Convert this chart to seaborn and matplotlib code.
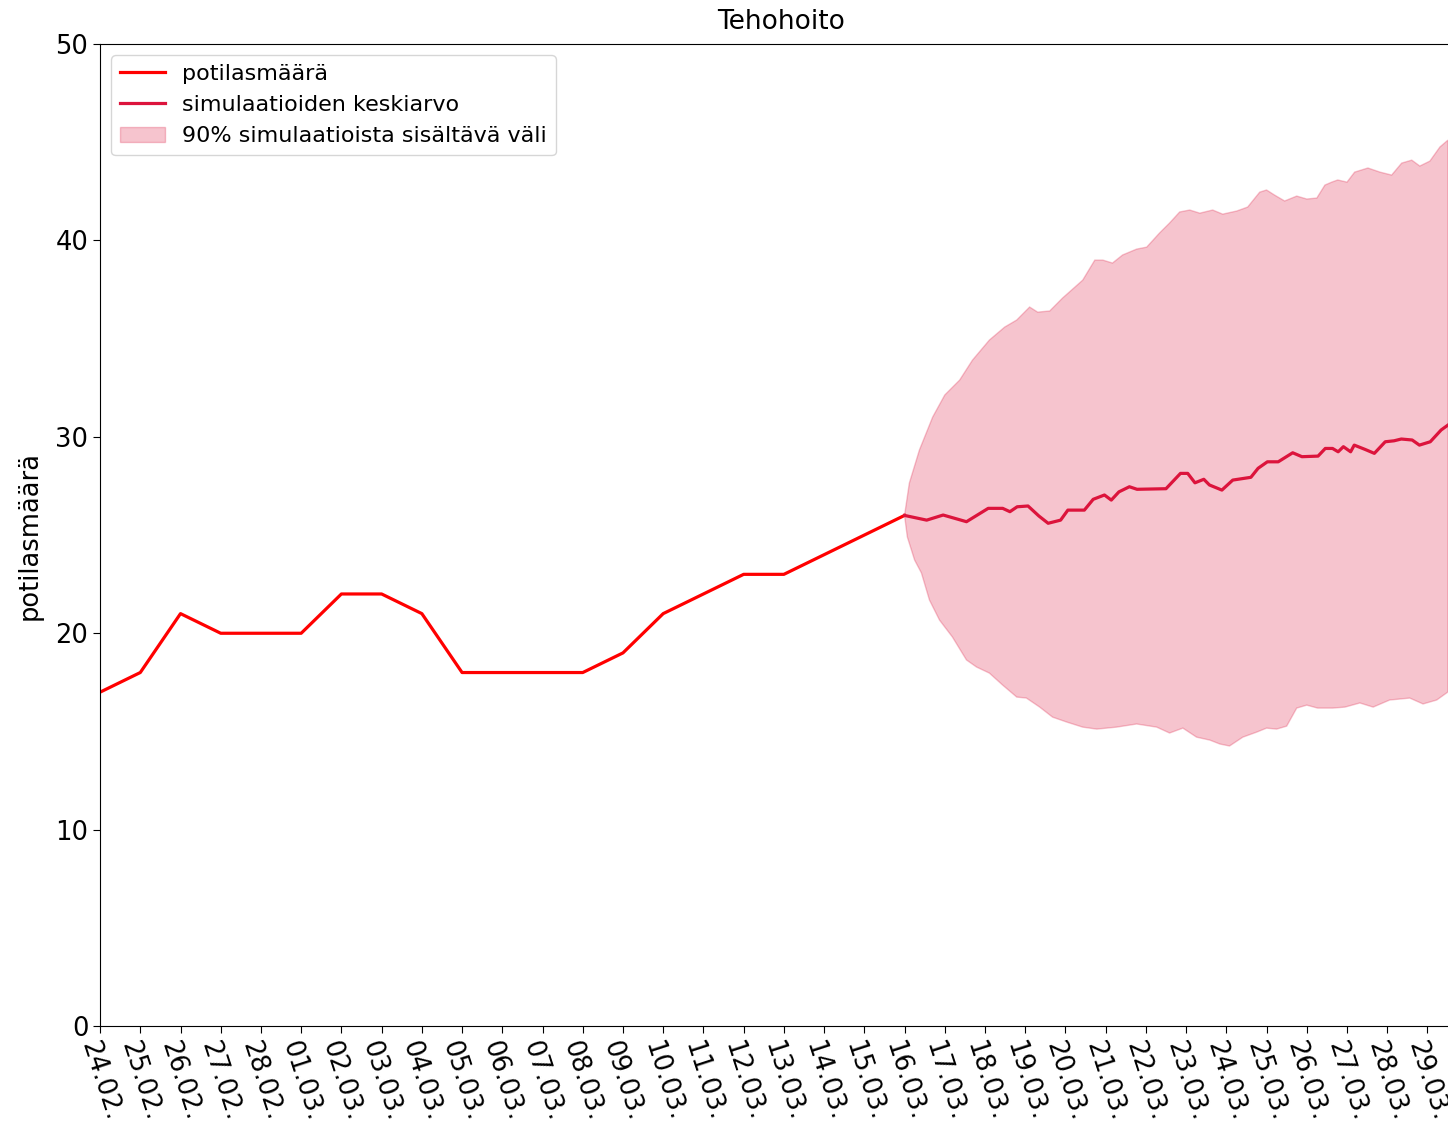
import matplotlib
matplotlib.use("Agg")
import matplotlib.pyplot as plt
import matplotlib.dates as mdates
import pandas as pd
import seaborn as sns

# --- data ---
obs_dates = pd.date_range("2021-02-24", "2021-03-16", freq="D")
obs_counts = [17, 18, 21, 20, 20, 20, 22, 22, 21, 18, 18,
              18, 18, 19, 21, 22, 23, 23, 24, 25, 26]

sim_start = pd.Timestamp("2021-03-16")

# simulation mean (days after 16.03.)
mean_days = [0.0, 0.55, 0.96, 1.54, 1.81, 2.08, 2.44, 2.62, 2.80, 3.07, 3.34,
             3.57, 3.88, 4.06, 4.47, 4.69, 4.97, 5.14, 5.33, 5.59, 5.78, 6.50,
             6.86, 7.04, 7.22, 7.44, 7.58, 7.89, 8.16, 8.61, 8.79, 9.02, 9.29,
             9.65, 9.88, 10.28, 10.46, 10.64, 10.78, 10.91, 11.09, 11.18, 11.45,
             11.68, 11.95, 12.17, 12.35, 12.62, 12.80, 13.07, 13.34, 13.51]
mean_values = [26.0, 25.76, 26.02, 25.68, 26.02, 26.36, 26.36, 26.19, 26.44,
               26.48, 25.97, 25.60, 25.76, 26.27, 26.27, 26.82, 27.04, 26.78,
               27.20, 27.46, 27.33, 27.36, 28.14, 28.14, 27.66, 27.84, 27.55,
               27.29, 27.80, 27.94, 28.40, 28.73, 28.73, 29.19, 28.99, 29.02,
               29.41, 29.41, 29.24, 29.50, 29.24, 29.58, 29.36, 29.16, 29.75,
               29.80, 29.89, 29.84, 29.58, 29.75, 30.35, 30.60]

# 90% interval, upper edge
upper_days = [0.0, 0.12, 0.37, 0.70, 1.00, 1.37, 1.69, 2.11, 2.49, 2.79, 3.11,
              3.31, 3.61, 3.93, 4.15, 4.43, 4.73, 4.93, 5.17, 5.42, 5.77, 6.02,
              6.34, 6.59, 6.84, 7.09, 7.34, 7.66, 7.91, 8.26, 8.53, 8.83, 9.00,
              9.20, 9.45, 9.75, 10.00, 10.25, 10.45, 10.62, 10.77, 11.00, 11.19,
              11.52, 11.82, 12.11, 12.36, 12.61, 12.81, 13.06, 13.31, 13.51]
upper_values = [26.0, 27.65, 29.33, 31.01, 32.13, 32.89, 33.91, 34.93, 35.59,
                35.95, 36.61, 36.35, 36.41, 37.07, 37.47, 37.98, 39.00, 39.00,
                38.85, 39.26, 39.56, 39.66, 40.38, 40.89, 41.45, 41.55, 41.39,
                41.55, 41.34, 41.50, 41.70, 42.46, 42.57, 42.31, 42.01, 42.26,
                42.11, 42.16, 42.82, 42.97, 43.08, 42.97, 43.48, 43.69, 43.48,
                43.33, 43.94, 44.09, 43.79, 44.04, 44.76, 45.11]

# 90% interval, lower edge
lower_days = [0.0, 0.07, 0.25, 0.42, 0.62, 0.87, 1.19, 1.54, 1.79, 2.11, 2.44,
              2.79, 3.03, 3.36, 3.68, 4.03, 4.43, 4.78, 5.27, 5.77, 6.27, 6.59,
              6.92, 7.26, 7.59, 7.84, 8.08, 8.41, 8.76, 9.00, 9.25, 9.50, 9.75,
              10.00, 10.27, 10.65, 10.95, 11.32, 11.65, 12.06, 12.56, 12.89,
              13.23, 13.51]
lower_values = [26.0, 24.90, 23.73, 23.07, 21.69, 20.67, 19.81, 18.64, 18.28,
                17.97, 17.36, 16.75, 16.70, 16.24, 15.73, 15.48, 15.22, 15.12,
                15.22, 15.38, 15.22, 14.92, 15.17, 14.71, 14.56, 14.36, 14.26,
                14.71, 14.97, 15.17, 15.12, 15.27, 16.19, 16.34, 16.19, 16.19,
                16.24, 16.45, 16.24, 16.60, 16.70, 16.40, 16.60, 17.01]

mean_dates = sim_start + pd.to_timedelta(mean_days, unit="D")
upper_dates = sim_start + pd.to_timedelta(upper_days, unit="D")
lower_dates = sim_start + pd.to_timedelta(lower_days, unit="D")

# --- plot ---
fig = plt.figure(figsize=(14.48, 11.33), dpi=100)
# axes run a little past the right edge of the picture (it is cropped there)
ax = fig.add_axes([0.0691, 0.0944, 0.9406, 0.8667])

sns.lineplot(x=obs_dates, y=obs_counts, color="red", linewidth=2.3,
             label="potilasmäärä", ax=ax)
sns.lineplot(x=mean_dates, y=mean_values, color="crimson", linewidth=2.3,
             estimator=None, label="simulaatioiden keskiarvo", ax=ax)

band_x = list(mdates.date2num(upper_dates)) + list(mdates.date2num(lower_dates))[::-1]
band_y = upper_values + lower_values[::-1]
ax.fill(band_x, band_y, color="crimson", alpha=0.25, linewidth=1,
        label="90% simulaatioista sisältävä väli")

ax.set_xlim(pd.Timestamp("2021-02-24"), pd.Timestamp("2021-02-24") + pd.Timedelta(days=33.86))
ax.set_ylim(0, 50)
ax.set_yticks(range(0, 51, 10))

ax.xaxis.set_major_locator(mdates.DayLocator())
ax.xaxis.set_major_formatter(mdates.DateFormatter("%d.%m."))
plt.setp(ax.get_xticklabels(), rotation=-72, ha="center")
ax.tick_params(axis="both", labelsize=18.5, length=5)

ax.spines["right"].set_visible(False)
ax.set_xlabel("")
ax.set_ylabel("potilasmäärä", fontsize=18.5, labelpad=9)
ax.set_title("Tehohoito", fontsize=19, pad=11)

ax.legend(loc="upper left", fontsize=16)

fig.savefig("out.png", dpi=100)
